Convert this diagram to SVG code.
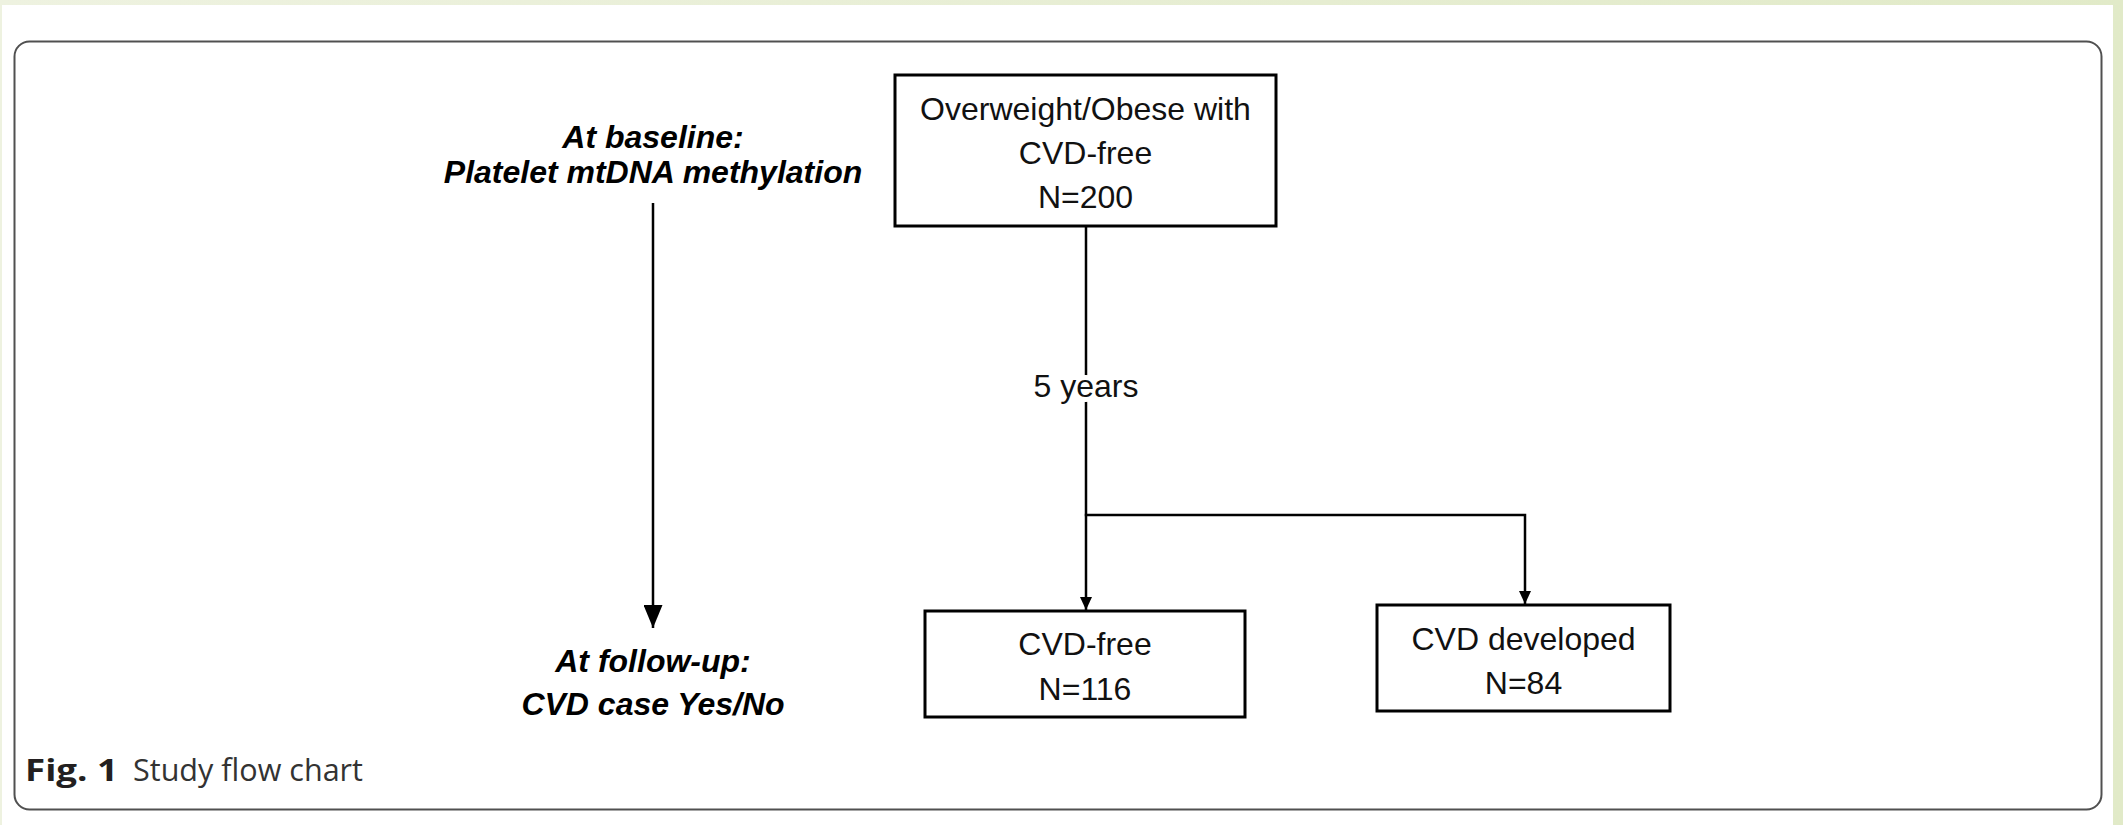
<svg xmlns="http://www.w3.org/2000/svg" width="2123" height="825" viewBox="0 0 2123 825">
  <defs>
    <linearGradient id="band" x1="0" y1="0" x2="1" y2="0">
      <stop offset="0" stop-color="#eef2e0"/>
      <stop offset="1" stop-color="#e1eac8"/>
    </linearGradient>
    <marker id="arrowBig" viewBox="0 0 19 23" refX="9.5" refY="23" markerWidth="19" markerHeight="23" markerUnits="userSpaceOnUse">
      <path d="M0,0 L19,0 L9.5,23 Z" fill="#000"/>
    </marker>
    <marker id="arrowSmall" viewBox="0 0 12 13" refX="6" refY="13" markerWidth="12" markerHeight="13" markerUnits="userSpaceOnUse">
      <path d="M0,0 L12,0 L6,13 Z" fill="#000"/>
    </marker>
  </defs>
  <style>
    .box { fill: #fff; stroke: #000; stroke-width: 3; }
    .conn { fill: none; stroke: #000; stroke-width: 2.5; }
    .lbl { font-family: "Liberation Sans", Arial, sans-serif; font-size: 32px; fill: #111; text-anchor: middle; }
    .side { font-family: "Liberation Sans", Arial, sans-serif; font-size: 32px; font-weight: bold; font-style: italic; fill: #000; text-anchor: middle; }
    .cap { font-family: "Open Sans", "Noto Sans", sans-serif; font-size: 31px; }
  </style>

  <!-- background -->
  <rect x="0" y="0" width="2123" height="825" fill="url(#band)"/>
  <rect x="2" y="5" width="2111" height="820" fill="#fff"/>

  <!-- outer frame -->
  <rect x="14.5" y="41.5" width="2087" height="768" rx="15" ry="15" fill="none" stroke="#505050" stroke-width="2"/>

  <g id="baseline-label">
    <text class="side" x="653" y="148">At baseline:</text>
    <text class="side" x="653" y="183">Platelet mtDNA methylation</text>
  </g>

  <g id="followup-label">
    <text class="side" x="653" y="672">At follow-up:</text>
    <text class="side" x="653" y="715">CVD case Yes/No</text>
  </g>

  <g id="node-start">
    <rect class="box" x="895" y="75" width="381" height="151"/>
    <text class="lbl" x="1085.5" y="120">Overweight/Obese with</text>
    <text class="lbl" x="1085.5" y="164">CVD-free</text>
    <text class="lbl" x="1085.5" y="208">N=200</text>
  </g>

  <g id="node-cvd-free">
    <rect class="box" x="925" y="611" width="320" height="106"/>
    <text class="lbl" x="1085" y="655">CVD-free</text>
    <text class="lbl" x="1085" y="700">N=116</text>
  </g>

  <g id="node-cvd-developed">
    <rect class="box" x="1377" y="605" width="293" height="106"/>
    <text class="lbl" x="1523.5" y="650">CVD developed</text>
    <text class="lbl" x="1523.5" y="694">N=84</text>
  </g>

  <g id="connectors">
    <line class="conn" x1="653" y1="203" x2="653" y2="628" marker-end="url(#arrowBig)"/>
    <line class="conn" x1="1086" y1="226" x2="1086" y2="515"/>
    <polyline class="conn" points="1086,515 1086,610" marker-end="url(#arrowSmall)"/>
    <polyline class="conn" points="1084.8,515 1525,515 1525,604" marker-end="url(#arrowSmall)"/>
    <text class="lbl" x="1086" y="397" style="paint-order:stroke" stroke="#fff" stroke-width="10">5 years</text>
  </g>

  <g id="caption">
    <text class="cap" x="25" y="781" font-weight="bold" fill="#231f20" textLength="93" lengthAdjust="spacingAndGlyphs">Fig. 1</text>
    <text class="cap" x="133" y="781" fill="#333" textLength="230" lengthAdjust="spacingAndGlyphs">Study flow chart</text>
  </g>
</svg>
